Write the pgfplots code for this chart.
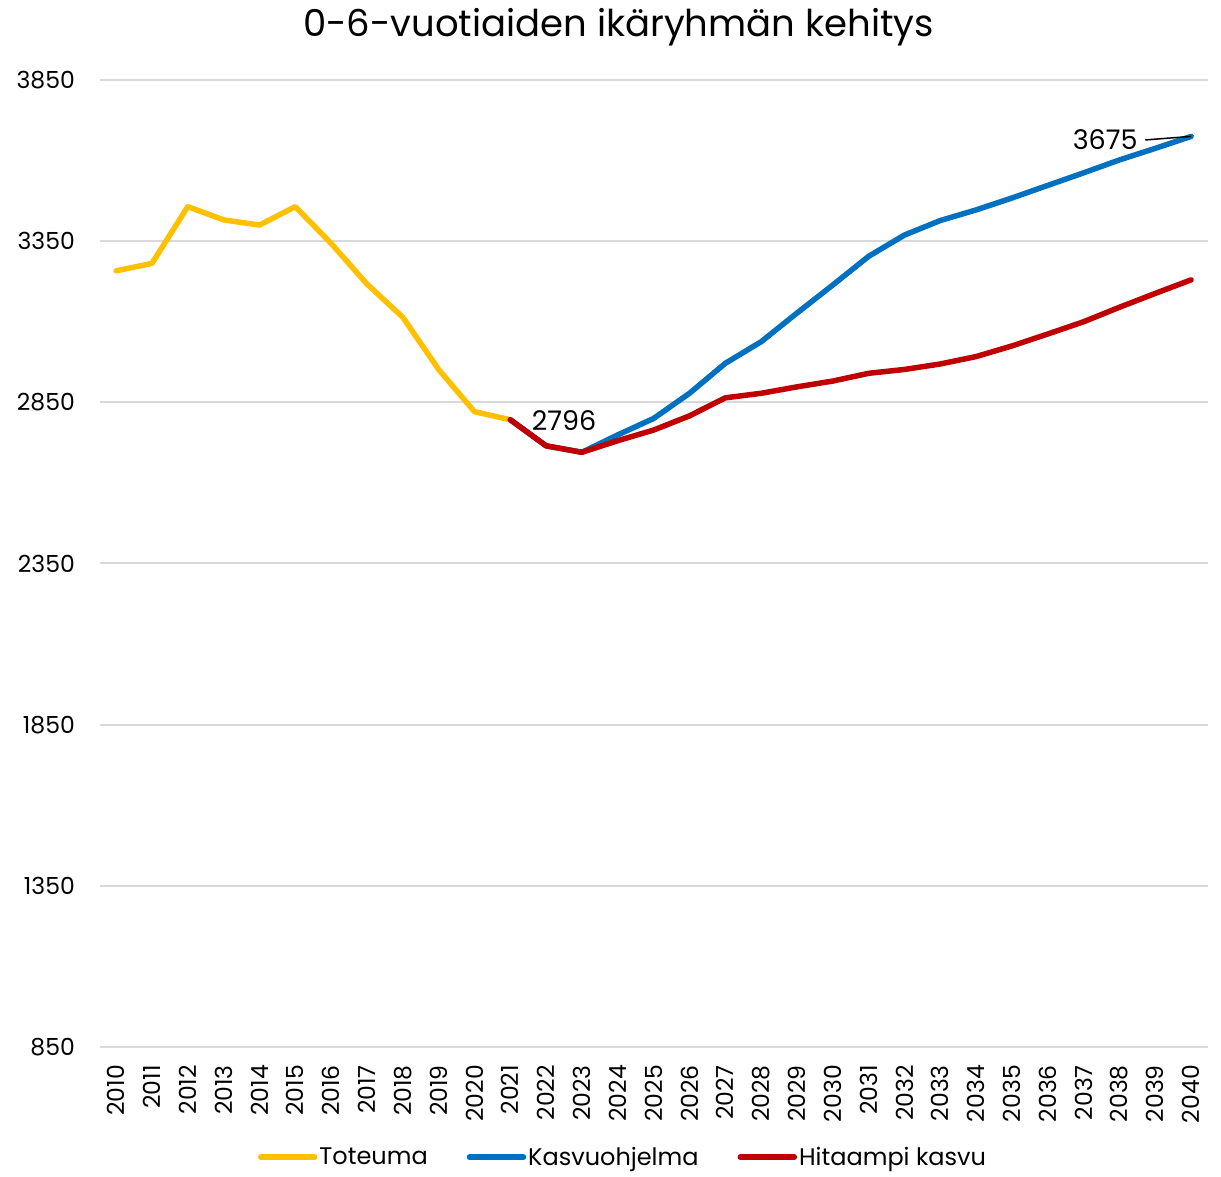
\documentclass[border=0pt]{standalone}
\usepackage{pgfplots}
\pgfplotsset{compat=1.18}
\usepackage{fontspec}
\setmainfont{Poppins}
\definecolor{cyel}{HTML}{FFC000}
\definecolor{cblu}{HTML}{0070C0}
\definecolor{cred}{HTML}{C00000}
\definecolor{cgrid}{HTML}{D9D9D9}
\begin{document}
\begin{tikzpicture}
\begin{axis}[
  name=ax,
  scale only axis,
  width=1108pt, height=967pt,
  xmin=2009.55, xmax=2040.47,
  ymin=850, ymax=3850,
  xtick={2010,...,2040},
  ytick={850,1350,...,3850},
  /pgf/number format/1000 sep={},
  /pgf/number format/assume math mode=true,
  axis line style={draw=none},
  major tick length=0pt,
  ymajorgrids,
  grid style={cgrid, line width=2pt},
  tick label style={inner sep=0pt},
  yticklabel style={anchor=east, xshift=-25pt, font=\fontsize{23.5}{26}\selectfont},
  xticklabel style={rotate=90, anchor=east, xshift=-18pt, font=\fontsize{23.5}{26}\selectfont},
  title={0-6-vuotiaiden ikäryhmän kehitys},
  title style={at={(0.468,1.048)}, anchor=center, font=\fontsize{37}{42}\selectfont},
  legend columns=3,
  legend style={at={(0.472,-0.114)}, anchor=center, draw=none, fill=none,
    font=\fontsize{24}{28}\selectfont, inner sep=0pt,
    /tikz/every even column/.append style={column sep=37pt}},
  legend image code/.code={\draw[#1, line width=5.5pt, line cap=round] (0pt,0pt) -- (54pt,0pt);},
  every axis plot/.append style={line width=5.5pt, line join=round, line cap=round},
  clip=false,
]
\addplot[cyel] coordinates {
(2010,3258) (2011,3281) (2012,3457) (2013,3416) (2014,3400) (2015,3457)
(2016,3343) (2017,3217) (2018,3114) (2019,2952) (2020,2821) (2021,2796)};
\addlegendentry{Toteuma}
\addplot[cblu] coordinates {
(2021,2796) (2022,2715) (2023,2695) (2024,2749) (2025,2800) (2026,2878)
(2027,2971) (2028,3038) (2029,3127) (2030,3214) (2031,3303) (2032,3369)
(2033,3414) (2034,3447) (2035,3484) (2036,3523) (2037,3562) (2038,3602)
(2039,3638) (2040,3675)};
\addlegendentry{Kasvuohjelma}
\addplot[cred] coordinates {
(2021,2796) (2022,2715) (2023,2695) (2024,2731) (2025,2764) (2026,2808)
(2027,2864) (2028,2878) (2029,2898) (2030,2916) (2031,2940) (2032,2952)
(2033,2969) (2034,2992) (2035,3025) (2036,3062) (2037,3100) (2038,3145)
(2039,3188) (2040,3230)};
\addlegendentry{Hitaampi kasvu}
\node[font=\fontsize{27}{30}\selectfont, inner sep=0pt] at (axis cs:2022.5,2792) {2796};
\node[font=\fontsize{27}{30}\selectfont, inner sep=0pt] at (axis cs:2037.6,3664) {3675};
\draw[black, line width=1.5pt] (axis cs:2038.72,3664) -- (axis cs:2040,3675);
\end{axis}
\pgfresetboundingbox
\path (ax.south west) ++(-100pt,-129pt) coordinate (bl);
\path (ax.north east) ++(13pt,80pt) coordinate (tr);
\path[use as bounding box] (bl) rectangle (tr);
\end{tikzpicture}
\end{document}
